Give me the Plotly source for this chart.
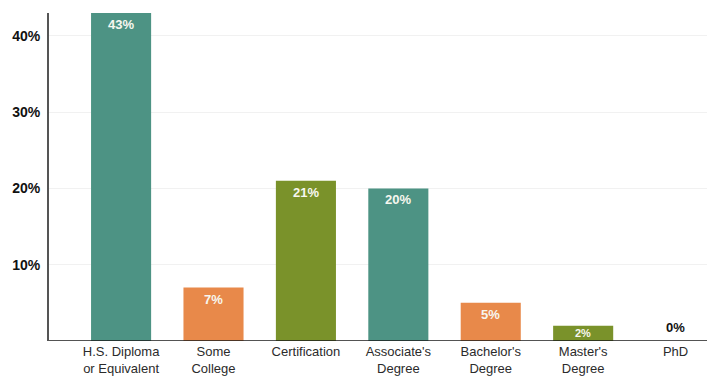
import plotly.graph_objects as go

# Education level distribution
categories = ["H.S. Diploma<br>or Equivalent", "Some<br>College", "Certification",
              "Associate's<br>Degree", "Bachelor's<br>Degree", "Master's<br>Degree", "PhD"]
values = [43, 7, 21, 20, 5, 2, 0]
bar_colors = ["#4d9384", "#e8894a", "#7a922a", "#4d9384", "#e8894a", "#7a922a", "#4d9384"]
y_ticks = [10, 20, 30, 40]
y_tick_labels = ["10%", "20%", "30%", "40%"]

x_pos = list(range(len(categories)))

fig = go.Figure()
fig.add_trace(go.Bar(
    x=x_pos, y=values,
    marker=dict(color=bar_colors, line=dict(width=0)),
    width=0.65,
    hoverinfo="skip",
))

label_font = "Liberation Sans, Arial"

# value labels at the top of each bar
for i, v in enumerate(values):
    if v >= 4:
        fig.add_annotation(x=i, y=v, text=f"<b>{v}%</b>", showarrow=False,
                           yanchor="top", yshift=-2,
                           font=dict(family=label_font, size=13, color="#f7f7ef"))
    elif v > 0:
        # short bar: keep the label centred inside it
        fig.add_annotation(x=i, y=v / 2, text=f"<b>{v}%</b>", showarrow=False,
                           yanchor="middle", borderpad=0,
                           font=dict(family=label_font, size=11, color="#f7f7ef"))
    else:
        fig.add_annotation(x=i, y=v, text=f"<b>{v}%</b>", showarrow=False,
                           yanchor="bottom", yshift=4,
                           font=dict(family=label_font, size=13, color="#111111"))

# baseline across the full width
fig.add_shape(type="line", xref="paper", yref="y", x0=0, x1=1, y0=0, y1=0,
              line=dict(color="#1a1a1a", width=1.5))

fig.update_layout(
    width=707, height=383,
    margin=dict(l=49, r=0, t=13, b=42),
    paper_bgcolor="white", plot_bgcolor="white",
    showlegend=False,
    xaxis=dict(
        range=[-0.78, 6.34],
        tickmode="array", tickvals=x_pos, ticktext=categories,
        tickfont=dict(family="Liberation Sans Narrow, Arial Narrow, Liberation Sans", size=13, color="#2b2b2b"),
        showgrid=False, zeroline=False, showline=False, ticks="",
        ticklabelstandoff=1,
        fixedrange=True,
    ),
    yaxis=dict(
        range=[0, 43],
        tickmode="array", tickvals=y_ticks,
        ticktext=[f"<b>{t}</b>" for t in y_tick_labels],
        tickfont=dict(family=label_font, size=14, color="#111111"),
        showgrid=True, gridcolor="#f1f1f1", gridwidth=1,
        zeroline=False,
        showline=True, linecolor="#555555", linewidth=2,
        ticks="", ticklabelstandoff=4,
        fixedrange=True,
    ),
)

fig.write_html("out.html")
